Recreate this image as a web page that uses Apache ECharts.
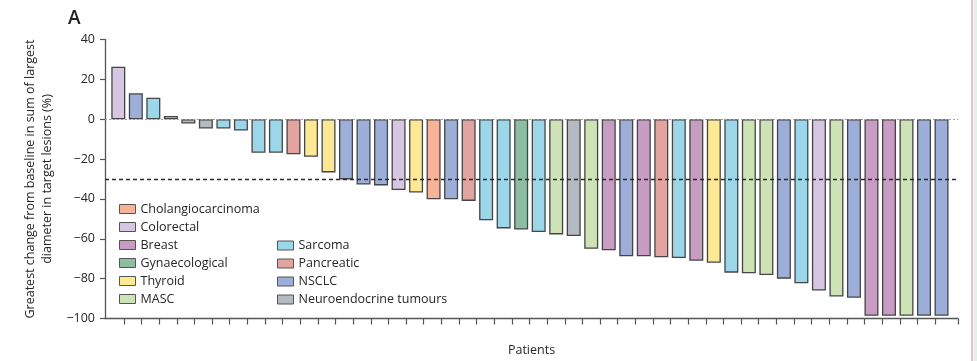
<!DOCTYPE html>
<html>
<head>
<meta charset="utf-8">
<script src="https://cdn.jsdelivr.net/npm/echarts@6/dist/echarts.min.js"></script>
<style>
html,body{margin:0;padding:0;background:#fff;}
#chart{width:977px;height:361px;}
</style>
</head>
<body>
<div id="chart"></div>
<script>
// ---- data ----
const cancerTypes = ['Cholangiocarcinoma','Colorectal','Breast','Gynaecological','Thyroid','MASC','Sarcoma','Pancreatic','NSCLC','Neuroendocrine tumours'];
const typeColors = ['#F7B299','#D6C6E3','#C89DC3','#8DBEA3','#FDE995','#CDE3B6','#9BD7E8','#E2A4A0','#9DAED8','#B3BAC1'];
const legendCol1 = ['Cholangiocarcinoma','Colorectal','Breast','Gynaecological','Thyroid','MASC'];
const legendCol2 = ['Sarcoma','Pancreatic','NSCLC','Neuroendocrine tumours'];
const patientType = [
 'Colorectal','NSCLC','Sarcoma','Sarcoma','Neuroendocrine tumours','Neuroendocrine tumours','Sarcoma','Sarcoma',
 'Sarcoma','Sarcoma','Pancreatic','Thyroid','Thyroid','NSCLC','NSCLC','NSCLC',
 'Colorectal','Thyroid','Cholangiocarcinoma','NSCLC','Pancreatic','Sarcoma','Sarcoma','Gynaecological',
 'Sarcoma','MASC','Neuroendocrine tumours','MASC','Breast','NSCLC','Breast','Pancreatic',
 'Sarcoma','Breast','Thyroid','Sarcoma','MASC','MASC','NSCLC','Sarcoma',
 'Colorectal','MASC','NSCLC','Breast','Breast','MASC','NSCLC','NSCLC'
];
const patientChange = [
 26.3, 13.0, 10.8, 1.6, -2.2, -4.7, -4.7, -5.7,
 -16.8, -16.8, -17.6, -18.8, -26.7, -30.2, -32.8, -33.2,
 -35.5, -36.8, -40.2, -40.2, -41.0, -50.7, -54.8, -55.4,
 -56.6, -57.8, -58.6, -65.0, -65.8, -68.8, -68.8, -69.3,
 -69.7, -71.0, -72.0, -77.0, -77.3, -78.2, -80.0, -82.3,
 -86.0, -89.0, -89.6, -98.6, -98.6, -98.6, -98.6, -98.6
];
const yTicks = [-100, -80, -60, -40, -20, 0, 20, 40];
const responseThreshold = -30;

// ---- chart ----
const FONT = 'Open Sans';
const TXT = '#262626';
const FS = 12.5;
const chart = echarts.init(document.getElementById('chart'), null, {renderer: 'canvas'});

const xMin = -0.76, xMax = 47.94;
const tickStart = 0.319, tickStep = 1.0068, tickCount = 47;
const tickValues = [];
for (let k = 0; k < tickCount; k++) tickValues.push(+(tickStart + k * tickStep).toFixed(4));
tickValues.push(xMax);

const series = cancerTypes.map((t, ci) => ({
  name: t,
  type: 'bar',
  barWidth: 14,
  barGap: '-100%',
  itemStyle: {color: typeColors[ci], borderColor: '#454545', borderWidth: 1.3},
  data: patientType.map((pt, i) => pt === t ? [i, patientChange[i]] : null).filter(d => d),
  z: 2
}));
series.push({
  type: 'line',
  data: [],
  silent: true,
  z: 5,
  markLine: {
    silent: true,
    symbol: 'none',
    label: {show: false},
    data: [
      {yAxis: 0, lineStyle: {color: '#86a6bd', type: [2, 2], width: 1}},
      {yAxis: responseThreshold, lineStyle: {color: '#2a2a2a', type: [4, 3], width: 1.3}}
    ]
  }
});

const legendCommon = {
  orient: 'vertical', padding: 0,
  itemWidth: 16, itemHeight: 9, itemGap: 4, icon: 'rect', selectedMode: false,
  itemStyle: {borderColor: '#555', borderWidth: 1},
  textStyle: {fontFamily: FONT, fontSize: FS, color: TXT, lineHeight: 14}
};

chart.setOption({
  animation: false,
  backgroundColor: '#fff',
  textStyle: {fontFamily: FONT},
  title: {
    text: 'A', left: 68, top: 9, padding: 0,
    textStyle: {fontFamily: FONT, fontSize: 19, fontWeight: 600, color: '#222'}
  },
  grid: {left: 105, right: 19, top: 39.5, bottom: 42.5, containLabel: false, outerBoundsMode: 'none'},
  legend: [
    Object.assign({data: legendCol1, left: 119, top: 202}, legendCommon),
    Object.assign({data: legendCol2, left: 277, top: 238.5}, legendCommon)
  ],
  xAxis: {
    type: 'value', min: xMin, max: xMax,
    name: 'Patients', nameLocation: 'middle', nameGap: 25,
    nameTextStyle: {fontFamily: FONT, fontSize: FS, color: TXT},
    axisLine: {show: true, onZero: false, lineStyle: {color: '#555', width: 1.3}},
    axisTick: {show: true, length: 6, inside: false, customValues: tickValues, lineStyle: {color: '#555', width: 1.2}},
    axisLabel: {show: false},
    splitLine: {show: false}
  },
  yAxis: {
    type: 'value', min: yTicks[0], max: yTicks[yTicks.length - 1], interval: 20,
    name: 'Greatest change from baseline in sum of largest\ndiameter in target lesions (%)',
    nameLocation: 'middle', nameGap: 48, nameRotate: 90,
    nameTextStyle: {fontFamily: FONT, fontSize: FS, color: TXT, lineHeight: 17, align: 'center'},
    axisLine: {show: true, onZero: false, lineStyle: {color: '#555', width: 1.3}},
    axisTick: {show: true, length: 5, inside: false, lineStyle: {color: '#555', width: 1.2}},
    axisLabel: {
      fontFamily: FONT, fontSize: FS, color: TXT, margin: 10,
      formatter: v => String(v).replace('-', '\u2212')
    },
    splitLine: {show: false}
  },
  graphic: [
    {type: 'rect', shape: {x: 973.5, y: 0, width: 4, height: 361}, style: {fill: '#e4f1ea'}, silent: true},
    {type: 'line', shape: {x1: 972, y1: 0, x2: 972, y2: 361}, style: {stroke: '#e7aabf', lineWidth: 1.5}, silent: true}
  ],
  series: series
});
</script>
</body>
</html>
